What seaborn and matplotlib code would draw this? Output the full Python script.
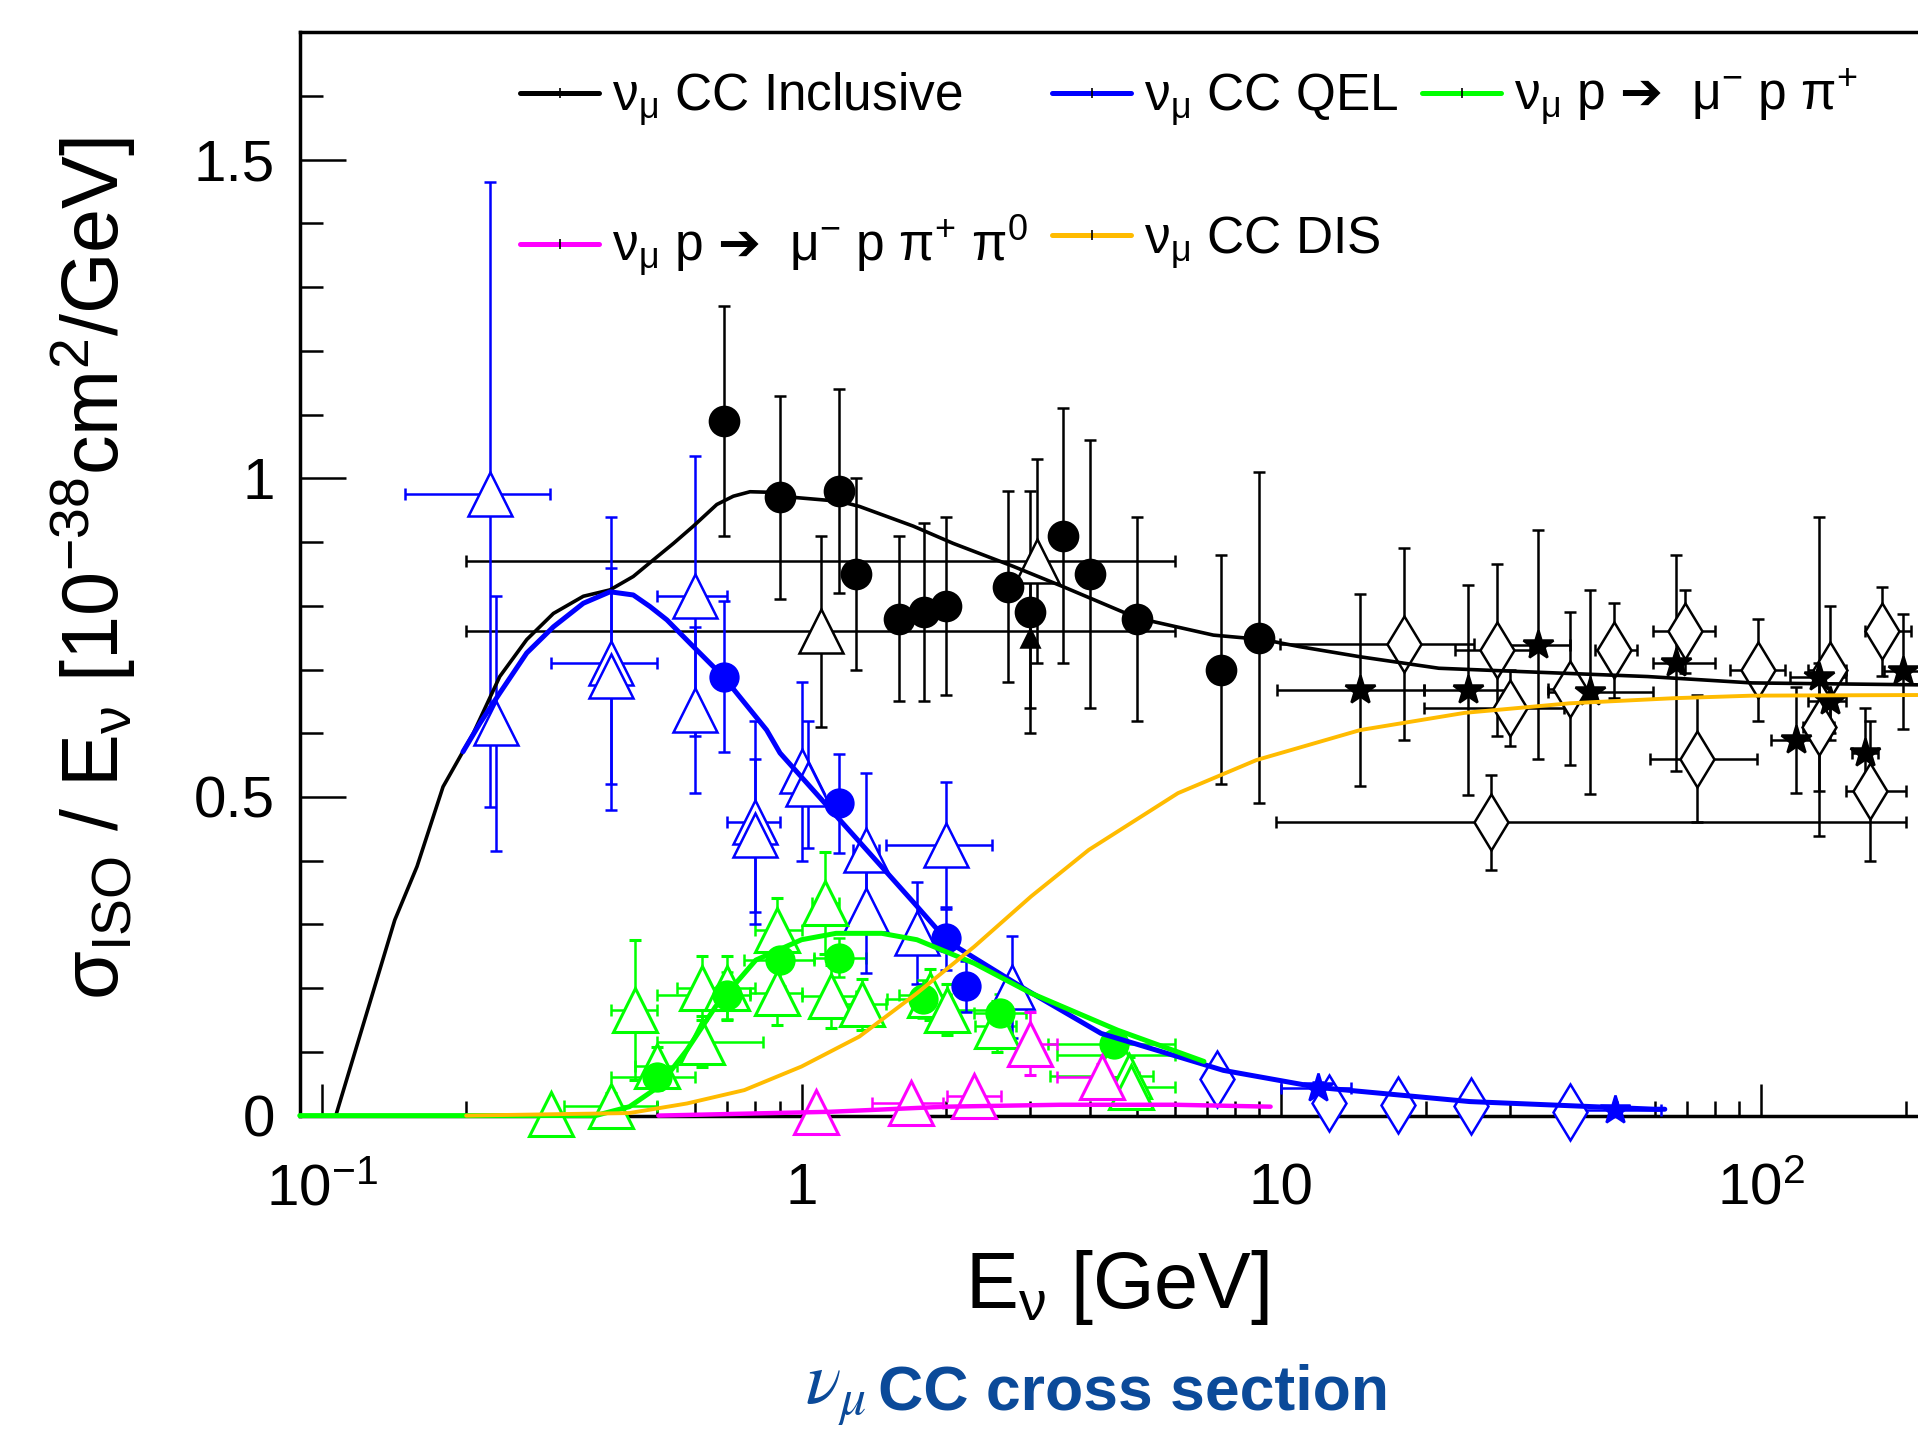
import numpy as np
import matplotlib
matplotlib.use("Agg")
import matplotlib.pyplot as plt
import seaborn as sns
from matplotlib.ticker import LogLocator, MultipleLocator, NullFormatter
from matplotlib.lines import Line2D


# Curvas teóricas (E en GeV, sigma/E en 1e-38 cm2/GeV)

incl_E = [0.107, 0.142, 0.158, 0.179, 0.207, 0.235, 0.2675, 0.304, 0.351, 0.399,
          0.446, 0.491, 0.541, 0.595, 0.666, 0.721, 0.781, 0.873, 0.902, 1.20,
          1.32, 1.71, 2.07, 2.76, 3.51, 5.0, 7.22, 9.17, 10.9, 14.6, 21.3, 31.1,
          58.0, 95.7, 212]
incl_v = [0.0, 0.307, 0.391, 0.516, 0.600, 0.689, 0.747, 0.788, 0.815, 0.825,
          0.846, 0.872, 0.898, 0.925, 0.959, 0.972, 0.979, 0.978, 0.972, 0.964,
          0.956, 0.925, 0.898, 0.862, 0.830, 0.781, 0.754, 0.747, 0.736, 0.720,
          0.702, 0.697, 0.689, 0.679, 0.676]

qel_E = [0.197, 0.2138, 0.235, 0.2675, 0.304, 0.351, 0.399, 0.446, 0.483, 0.524,
         0.595, 0.687, 0.846, 0.902, 1.71, 2.02, 2.96, 4.21, 7.57, 12.0, 24.7,
         60.0, 63.0]
qel_v = [0.571, 0.616, 0.663, 0.726, 0.767, 0.804, 0.822, 0.817, 0.799, 0.778,
         0.736, 0.689, 0.605, 0.569, 0.335, 0.273, 0.196, 0.129, 0.071, 0.044,
         0.022, 0.010, 0.010]

pi_E = [0.09, 0.372, 0.438, 0.503, 0.577, 0.662, 0.803, 1.0, 1.18, 1.47, 1.74,
        2.29, 3.01, 4.56, 6.9]
pi_v = [0.0, 0.0, 0.014, 0.045, 0.103, 0.171, 0.244, 0.276, 0.286, 0.286, 0.276,
        0.239, 0.192, 0.134, 0.085]

dis_E = [0.2, 0.438, 0.577, 0.760, 1.0, 1.32, 1.74, 2.29, 3.01, 3.97, 6.09, 8.88,
         14.6, 24.1, 39.9, 65.8, 95.7, 212]
dis_v = [0.0, 0.004, 0.019, 0.040, 0.077, 0.124, 0.192, 0.265, 0.344, 0.417,
         0.506, 0.558, 0.605, 0.632, 0.647, 0.655, 0.659, 0.660]

pipi_E = [0.503, 1.15, 2.0, 3.46, 6.0, 9.5]
pipi_v = [0.0, 0.006, 0.014, 0.017, 0.017, 0.014]

# Datos experimentales

incl_dot_E = [0.69, 0.90, 1.20, 1.30, 1.60, 1.80, 2.00, 2.70, 3.00, 3.50, 4.00, 5.00, 7.50, 9.00]
incl_dot_v = [1.09, 0.97, 0.98, 0.85, 0.78, 0.79, 0.80, 0.83, 0.79, 0.91, 0.85, 0.78, 0.70, 0.75]
incl_dot_err = [0.18, 0.16, 0.16, 0.15, 0.13, 0.14, 0.14, 0.15, 0.19, 0.20, 0.21, 0.16, 0.18, 0.26]

incl_tri_E = [1.10, 3.09]
incl_tri_v = [0.76, 0.87]
incl_tri_err = [0.15, 0.16]
incl_tri_lo = [0.20, 0.20]
incl_tri_hi = [6.0, 6.0]

incl_ftri_E = [3.0]
incl_ftri_v = [0.75]
incl_ftri_err = [0.11]

incl_dia_E = [18.0, 28.1, 29.9, 39.9, 49.3, 69.5, 73.6, 98.7, 132, 139, 169, 179, 27.3]
incl_dia_v = [0.74, 0.73, 0.64, 0.67, 0.73, 0.76, 0.56, 0.70, 0.61, 0.70, 0.51, 0.76, 0.46]
incl_dia_err = [0.15, 0.135, 0.06, 0.12, 0.075, 0.065, 0.10, 0.08, 0.10, 0.10, 0.11, 0.07, 0.075]
incl_dia_lo = [9.95, 23.0, 19.8, 36.0, 45.0, 59.5, 58.6, 86.0, 122, 125, 150, 165, 9.77]
incl_dia_hi = [25.2, 33.0, 38.9, 44.0, 55.0, 80.0, 98.0, 112, 142, 150, 200, 205, 200]

incl_star_E = [14.6, 24.5, 34.3, 44.1, 66.6, 118.5, 132, 139, 165, 198]
incl_star_v = [0.668, 0.668, 0.739, 0.665, 0.710, 0.590, 0.689, 0.650, 0.569, 0.697]
incl_star_err = [0.15, 0.165, 0.18, 0.16, 0.17, 0.083, 0.25, 0.06, 0.07, 0.09]
incl_star_lo = [9.8, 19.8, 29.0, 36.0, 59.5, 105, 115, 125, 155, 180]
incl_star_hi = [19.8, 30.0, 40.0, 59.5, 80.0, 130, 150, 150, 175, 220]

qel_tri_E = [0.224, 0.231, 0.40, 0.40, 0.60, 0.60, 0.80, 0.80, 1.00, 1.03, 1.36, 1.36, 2.00, 1.74, 2.74]
qel_tri_v = [0.975, 0.616, 0.71, 0.69, 0.815, 0.637, 0.46, 0.44, 0.54, 0.52, 0.417, 0.323, 0.424, 0.286, 0.202]
qel_tri_err = [0.49, 0.20, 0.23, 0.17, 0.22, 0.13, 0.16, 0.12, 0.14, 0.10, 0.12, 0.10, 0.10, 0.08, 0.08]
qel_tri_lo = [0.149, 0.231, 0.30, 0.40, 0.50, 0.60, 0.70, 0.80, 1.00, 1.03, 1.28, 1.36, 1.50, 1.74, 2.74]
qel_tri_hi = [0.299, 0.231, 0.50, 0.40, 0.70, 0.60, 0.90, 0.80, 1.00, 1.03, 1.45, 1.36, 2.50, 1.74, 2.74]

qel_dot_E = [0.69, 1.20, 2.00, 2.20]
qel_dot_v = [0.689, 0.490, 0.278, 0.203]
qel_dot_err = [0.118, 0.078, 0.05, 0.04]

qel_dia_E = [7.35, 12.6, 17.5, 24.8, 40.0]
qel_dia_v = [0.058, 0.020, 0.017, 0.015, 0.006]
qel_dia_err = [0.01, 0.01, 0.008, 0.008, 0.005]

qel_star_E = [11.9, 49.5]
qel_star_v = [0.043, 0.008]
qel_star_err = [0.01, 0.005]
qel_star_lo = [10.0, 40.0]
qel_star_hi = [14.0, 62.0]

pi_dot_E = [0.50, 0.70, 0.90, 1.20, 1.79, 2.59, 4.49]
pi_dot_v = [0.060, 0.189, 0.244, 0.248, 0.183, 0.161, 0.113]
pi_dot_err = [0.02, 0.037, 0.04, 0.03, 0.03, 0.03, 0.02]
pi_dot_lo = [0.40, 0.50, 0.76, 1.06, 1.51, 2.29, 3.27]
pi_dot_hi = [0.60, 0.78, 1.06, 1.36, 2.05, 2.93, 6.0]

pi_tri_E = [0.30, 0.40, 0.45, 0.50, 0.62, 0.62, 0.70, 0.89, 0.89, 1.12, 1.15, 1.34,
            1.85, 2.01, 2.55, 4.54, 4.82, 4.85]
pi_tri_v = [0.003, 0.015, 0.166, 0.078, 0.116, 0.200, 0.200, 0.192, 0.291, 0.333,
            0.187, 0.175, 0.190, 0.166, 0.140, 0.095, 0.062, 0.045]
pi_tri_err = [0.01, 0.02, 0.11, 0.03, 0.04, 0.05, 0.05, 0.05, 0.05, 0.08, 0.05,
              0.04, 0.04, 0.04, 0.04, 0.03, 0.03, 0.03]
pi_tri_lo = [0.30, 0.32, 0.40, 0.45, 0.50, 0.55, 0.62, 0.78, 0.80, 1.05, 1.00, 1.10,
             1.60, 1.70, 2.30, 3.40, 3.30, 4.00]
pi_tri_hi = [0.30, 0.50, 0.50, 0.55, 0.83, 0.70, 0.80, 1.00, 1.00, 1.20, 1.30, 1.50,
             2.00, 2.50, 2.80, 6.00, 5.40, 6.00]

pipi_tri_E = [1.07, 1.69, 2.29, 2.99, 4.22]
pipi_tri_v = [0.006, 0.019, 0.030, 0.113, 0.061]
pipi_tri_err = [0.008, 0.01, 0.01, 0.05, 0.02]
pipi_tri_lo = [1.07, 1.40, 2.01, 2.60, 3.40]
pipi_tri_hi = [1.07, 1.97, 2.60, 3.40, 5.06]

# Ejes y etiquetas

xtick_values = [0.1, 1, 10, 100]
xtick_labels = [r"$10^{-1}$", "1", "10", r"$10^{2}$"]
ytick_values = [0, 0.5, 1, 1.5]
ytick_labels = ["0", "0.5", "1", "1.5"]

legend_labels = [
    r"$\nu_{\mu}$ CC Inclusive",
    r"$\nu_{\mu}$ p $\mathrm{➔}$  $\mu^{-}$ p $\pi^{+}$ $\pi^{0}$",
    r"$\nu_{\mu}$ CC QEL",
    r"$\nu_{\mu}$ CC DIS",
    r"$\nu_{\mu}$ p $\mathrm{➔}$  $\mu^{-}$ p $\pi^{+}$",
]
legend_colors = ["black", "#ff00ff", "#0000ff", "#ffbb00", "#00ff00"]

# Estilo

sns.set_theme(style="white")
plt.rcParams["font.family"] = ["Liberation Sans", "DejaVu Sans"]
plt.rcParams["mathtext.fontset"] = "custom"
plt.rcParams["mathtext.rm"] = "DejaVu Sans"
plt.rcParams["mathtext.it"] = "Liberation Sans:italic"
plt.rcParams["mathtext.bf"] = "Liberation Sans:bold"
plt.rcParams["mathtext.default"] = "regular"
plt.rcParams["text.color"] = "black"
plt.rcParams["axes.labelcolor"] = "black"
plt.rcParams["xtick.color"] = "black"
plt.rcParams["ytick.color"] = "black"

fig = plt.figure(figsize=(19.18, 14.31), dpi=100)
ax = fig.add_axes([0.15641, 0.22041, 0.88113, 0.75702])
ax.set_xscale("log")
ax.set_xlim(0.0901, 300)
ax.set_ylim(0, 1.7)


def puntos(E, v, err, marker, color, ms, face, lo=None, hi=None, mew=1.8):
    E = np.asarray(E, dtype=float)
    v = np.asarray(v, dtype=float)
    err = np.asarray(err, dtype=float)
    cont = ax.errorbar(
        E, v, yerr=err, fmt=marker, color=color, ms=ms,
        mfc=face, mec=color, mew=mew, elinewidth=1.8,
        capsize=4, capthick=1.8, zorder=4
    )
    artistas = [cont[0], *cont[1], *cont[2]]
    if lo is not None:
        lo = np.asarray(lo, dtype=float)
        hi = np.asarray(hi, dtype=float)
        m = (hi - lo) > 0
        cx = ax.errorbar(
            E[m], v[m], xerr=[E[m] - lo[m], hi[m] - E[m]], fmt="none",
            ecolor=color, elinewidth=1.8, capsize=4, capthick=1.8, zorder=3.9
        )
        artistas += [*cx[1], *cx[2]]
    for a in artistas:
        a.set_clip_on(False)


# Datos inclusivos (negro)
puntos(incl_tri_E, incl_tri_v, incl_tri_err, "^", "black", 31, "white", incl_tri_lo, incl_tri_hi)
puntos(incl_dia_E, incl_dia_v, incl_dia_err, "d", "black", 29, "white", incl_dia_lo, incl_dia_hi)
puntos(incl_star_E, incl_star_v, incl_star_err, "*", "black", 22, "black", incl_star_lo, incl_star_hi)
puntos(incl_dot_E, incl_dot_v, incl_dot_err, "o", "black", 21, "black")
puntos(incl_ftri_E, incl_ftri_v, incl_ftri_err, "^", "black", 13, "black")

# QEL (azul)
puntos(qel_tri_E, qel_tri_v, qel_tri_err, "^", "#0000ff", 31, "white", qel_tri_lo, qel_tri_hi)
puntos(qel_dot_E, qel_dot_v, qel_dot_err, "o", "#0000ff", 20, "#0000ff")
puntos(qel_dia_E, qel_dia_v, qel_dia_err, "d", "#0000ff", 29, "white")
puntos(qel_star_E, qel_star_v, qel_star_err, "*", "#0000ff", 22, "#0000ff", qel_star_lo, qel_star_hi)

# CC 1pi+ (verde)
puntos(pi_tri_E, pi_tri_v, pi_tri_err, "^", "#00ff00", 31, "white", pi_tri_lo, pi_tri_hi, mew=2.2)
puntos(pi_dot_E, pi_dot_v, pi_dot_err, "o", "#00ff00", 20, "#00ff00", pi_dot_lo, pi_dot_hi)

# pi+ pi0 (magenta)
puntos(pipi_tri_E, pipi_tri_v, pipi_tri_err, "^", "#ff00ff", 31, "white", pipi_tri_lo, pipi_tri_hi, mew=2.2)

# Curvas
curvas = [
    (incl_E, incl_v, "black", 2.6, 5),
    (qel_E, qel_v, "#0000ff", 3.6, 6),
    (pi_E, pi_v, "#00ff00", 3.6, 7),
    (dis_E, dis_v, "#ffbb00", 2.8, 8),
    (pipi_E, pipi_v, "#ff00ff", 3.2, 9),
]
for E, v, c, lw, z in curvas:
    sns.lineplot(x=E, y=v, color=c, linewidth=lw, ax=ax, sort=False,
                 estimator=None, zorder=z)
    ax.lines[-1].set_clip_on(False)

# Ticks estilo ROOT
ax.set_xticks(xtick_values, xtick_labels)
ax.xaxis.set_minor_locator(LogLocator(base=10, subs=np.arange(2, 10), numticks=50))
ax.xaxis.set_minor_formatter(NullFormatter())
ax.set_yticks(ytick_values, ytick_labels)
ax.yaxis.set_minor_locator(MultipleLocator(0.1))

ax.tick_params(axis="x", which="major", direction="in", length=23, width=1.8,
               pad=64, labelsize=42, bottom=True, top=False)
ax.tick_params(axis="x", which="minor", direction="in", length=11, width=1.8,
               bottom=True, top=False)
ax.tick_params(axis="y", which="major", direction="in", length=33, width=1.8,
               pad=18, labelsize=42, left=True, right=False)
ax.tick_params(axis="y", which="minor", direction="in", length=16.5, width=1.8,
               left=True, right=False)
for lab in ax.get_xticklabels():
    lab.set_verticalalignment("baseline")

for s in ax.spines.values():
    s.set_linewidth(2.5)
    s.set_color("black")

ax.set_xlabel(r"E$_{\nu}$ [GeV]", fontsize=57, va="baseline")
ax.xaxis.set_label_coords(0.4837, -0.178)
ax.set_ylabel(r"$\sigma_{ISO}$ / E$_{\nu}$ [10$^{-38}$cm$^{2}$/GeV]", fontsize=57,
              va="center", ha="center")
ax.yaxis.set_label_coords(-0.1223, 0.5046)

# Leyenda
handles = [Line2D([0], [0], color=c, lw=3.6, marker="|", ms=7, mec="black", mew=1.2)
           for c in legend_colors]
ax.legend(handles, legend_labels, loc="upper left",
          bbox_to_anchor=(520 / 1918, 1 - 68 / 1431), bbox_transform=fig.transFigure,
          ncol=3, frameon=False, fontsize=37, handlelength=1.54, handletextpad=0.25,
          columnspacing=0.47, labelspacing=1.68, borderpad=0, borderaxespad=0)

# Título
color_titulo = "#0b4a99"
fig.text(866 / 1918, 1 - 1404 / 1431, r"$\mathit{\nu}_{\mathit{\mu}}$",
         fontsize=53, color=color_titulo, ha="right", va="baseline",
         math_fontfamily="stix")
fig.text(878 / 1918, 1 - 1409 / 1431, "CC cross section", fontsize=45,
         fontweight="bold", color=color_titulo, ha="left", va="baseline")

fig.savefig("out.png", dpi=100)
plt.close(fig)
